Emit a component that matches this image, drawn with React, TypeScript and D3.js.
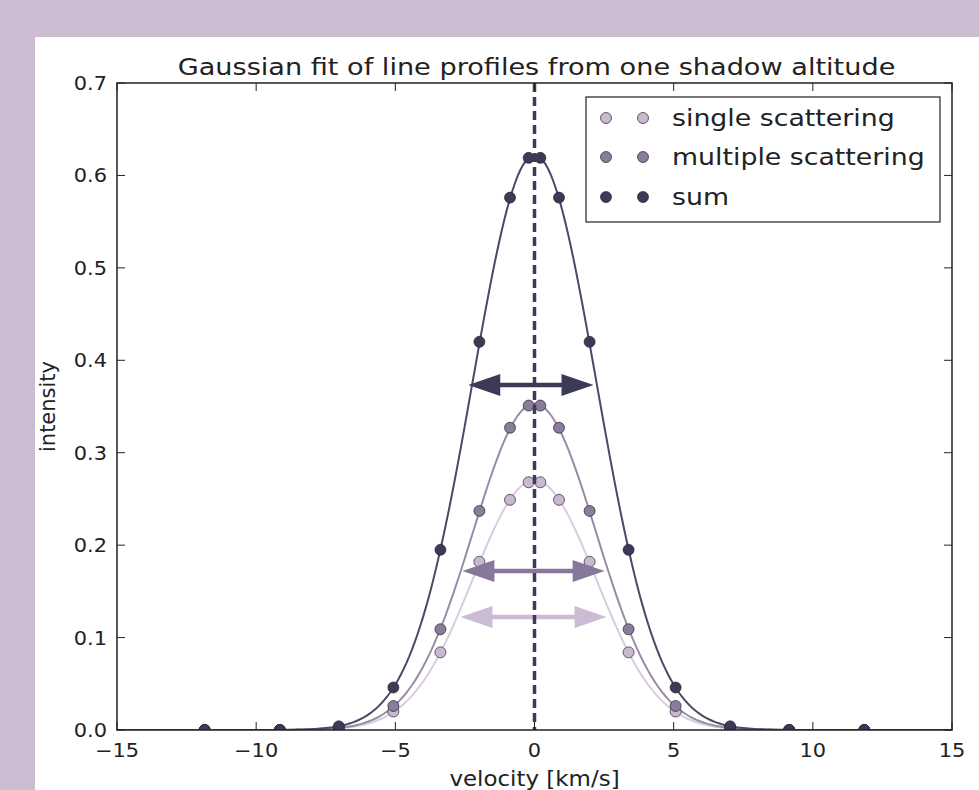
import React from "react";
import * as d3 from "d3";

// ---- data ----
const velocities = [-11.85, -9.15, -7.03, -5.07, -3.38, -1.98, -0.88, -0.21, 0.21, 0.88, 1.98, 3.38, 5.07, 7.03, 9.15, 11.85];
const singleScattering = [0, 0, 0.001, 0.02, 0.084, 0.182, 0.249, 0.268, 0.268, 0.249, 0.182, 0.084, 0.02, 0.001, 0, 0];
const multipleScattering = [0, 0, 0.002, 0.026, 0.109, 0.237, 0.327, 0.351, 0.351, 0.327, 0.237, 0.109, 0.026, 0.002, 0, 0];
const sumScattering = [0, 0, 0.004, 0.046, 0.195, 0.42, 0.576, 0.619, 0.619, 0.576, 0.42, 0.195, 0.046, 0.004, 0, 0];

const seriesNames = ["single scattering", "multiple scattering", "sum"];
// Gaussian fit parameters (amplitude, centre, sigma) per series
const fitAmplitudes = [0.27, 0.353, 0.622];
const fitCenters = [0, 0, 0];
const fitSigmas = [2.21, 2.21, 2.22];

// width arrows: [x start, x end, y]
const arrowStarts = [-2.66, -2.59, -2.38];
const arrowEnds = [2.59, 2.52, 2.12];
const arrowLevels = [0.1223, 0.172, 0.3733];

const xTicks = [-15, -10, -5, 0, 5, 10, 15];
const yTicks = [0, 0.1, 0.2, 0.3, 0.4, 0.5, 0.6, 0.7];

const markerFills = ["#c9b8cf", "#8b7c9b", "#3b3a57"];
const lineColors = ["#d8cce0", "#9a8ba7", "#4a4966"];
const arrowColors = ["#cbbbd3", "#87779a", "#3b3a57"];

const W = 979;
const H = 790;
const FONT = "DejaVu Sans";

function SText(props: any) {
  const { x, y, sx = 1, size, anchor = "start", children, rotate = 0, fill = "#222" } = props;
  return (
    <text
      transform={`translate(${x},${y}) rotate(${rotate}) scale(${sx},1)`}
      fontSize={size}
      fontFamily={FONT}
      textAnchor={anchor}
      fill={fill}
    >
      {children}
    </text>
  );
}

function fmtMinus(v: number) {
  return v < 0 ? "\u2212" + Math.abs(v) : String(v);
}

export default function App() {
  const left = 117, right = 952, top = 83, bottom = 730;
  const x = d3.scaleLinear().domain([-15, 15]).range([left, right]);
  const y = d3.scaleLinear().domain([0, 0.7]).range([bottom, top]);

  const series = [singleScattering, multipleScattering, sumScattering];
  const grid = d3.range(-15, 15.0001, 0.1);
  const line = d3
    .line<number[]>()
    .x((d) => x(d[0]))
    .y((d) => y(d[1]));

  const fitPath = (i: number) =>
    line(
      grid.map((v) => [
        v,
        fitAmplitudes[i] * Math.exp(-((v - fitCenters[i]) ** 2) / (2 * fitSigmas[i] ** 2)),
      ])
    ) as string;

  const arrowPoly = (x0: number, x1: number, yy: number) => {
    const hl = 32, hw = 11, t = 2.2;
    const pts = [
      [x0, yy], [x0 + hl, yy - hw], [x0 + hl, yy - t], [x1 - hl, yy - t], [x1 - hl, yy - hw],
      [x1, yy], [x1 - hl, yy + hw], [x1 - hl, yy + t], [x0 + hl, yy + t], [x0 + hl, yy + hw],
    ];
    return pts.map((p) => p.join(",")).join(" ");
  };

  const tickLen = 8;
  const legendRows = [118, 157, 197];

  return (
    <div style={{ position: "fixed", left: 0, top: 0, width: W, height: H }}>
      <svg width={W} height={H} style={{ display: "block" }}>
        <defs>
          <clipPath id="axclip">
            <rect x={left} y={top} width={right - left} height={bottom - top} />
          </clipPath>
        </defs>
        <rect x={0} y={0} width={W} height={H} fill="#cbbcd2" />
        <rect x={35} y={37} width={W - 35} height={H - 37} fill="#ffffff" />

        <g clipPath="url(#axclip)">
          {[0, 1, 2].map((i) => (
            <path key={"l" + i} d={fitPath(i)} fill="none" stroke={lineColors[i]} strokeWidth={2} />
          ))}
          {[0, 1, 2].map((i) => (
            <g key={"p" + i}>
              {velocities.map((v, j) => (
                <circle
                  key={j}
                  cx={x(v)}
                  cy={y(series[i][j])}
                  r={5.5}
                  fill={markerFills[i]}
                  stroke="rgba(30,30,45,0.75)"
                  strokeWidth={0.9}
                />
              ))}
            </g>
          ))}
          {[0, 1, 2].map((i) => (
            <polygon
              key={"a" + i}
              points={arrowPoly(x(arrowStarts[i]), x(arrowEnds[i]), y(arrowLevels[i]))}
              fill={arrowColors[i]}
            />
          ))}
          <line
            x1={x(0)}
            x2={x(0)}
            y1={top}
            y2={bottom}
            stroke="#3b3a57"
            strokeWidth={3.5}
            strokeDasharray="9 5"
          />
        </g>

        {/* ticks */}
        {xTicks.map((t) => (
          <g key={"xt" + t}>
            <line x1={x(t)} x2={x(t)} y1={bottom} y2={bottom - tickLen} stroke="#222" strokeWidth={1} />
            <line x1={x(t)} x2={x(t)} y1={top} y2={top + tickLen} stroke="#222" strokeWidth={1} />
            <SText x={x(t)} y={757} size={19} sx={1.1} anchor="middle">
              {fmtMinus(t)}
            </SText>
          </g>
        ))}
        {yTicks.map((t) => (
          <g key={"yt" + t}>
            <line x1={left} x2={left + tickLen} y1={y(t)} y2={y(t)} stroke="#222" strokeWidth={1} />
            <line x1={right} x2={right - tickLen} y1={y(t)} y2={y(t)} stroke="#222" strokeWidth={1} />
            <SText x={107} y={y(t) + 7} size={19} sx={1.1} anchor="end">
              {t.toFixed(1)}
            </SText>
          </g>
        ))}

        <rect x={left} y={top} width={right - left} height={bottom - top} fill="none" stroke="#222" strokeWidth={1.5} />

        {/* title & labels */}
        <SText x={(left + right) / 2 + 2} y={75} size={23} sx={1.18} anchor="middle">
          Gaussian fit of line profiles from one shadow altitude
        </SText>
        <SText x={(left + right) / 2} y={786} size={20.5} sx={1.12} anchor="middle">
          velocity [km/s]
        </SText>
        <SText x={55} y={(top + bottom) / 2} size={21} rotate={-90} anchor="middle">
          intensity
        </SText>

        {/* legend */}
        <rect x={586} y={97} width={354} height={125} fill="#ffffff" stroke="#222" strokeWidth={1.2} />
        {[0, 1, 2].map((i) => (
          <g key={"lg" + i}>
            <circle cx={606} cy={legendRows[i]} r={5.5} fill={markerFills[i]} stroke="rgba(30,30,45,0.75)" strokeWidth={0.9} />
            <circle cx={643} cy={legendRows[i]} r={5.5} fill={markerFills[i]} stroke="rgba(30,30,45,0.75)" strokeWidth={0.9} />
            <SText x={672} y={legendRows[i] + 8} size={22.5} sx={1.19}>
              {seriesNames[i]}
            </SText>
          </g>
        ))}
      </svg>
    </div>
  );
}
